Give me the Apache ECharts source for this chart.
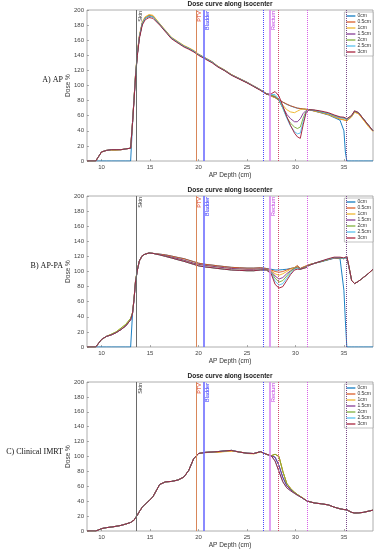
<!DOCTYPE html>
<html>
<head>
<meta charset="utf-8">
<script src="https://cdn.jsdelivr.net/npm/echarts@6/dist/echarts.min.js"></script>
<style>html,body{margin:0;padding:0;background:#fff;}#c{width:377px;height:550px;}</style>
</head>
<body>
<div id="c"></div>
<script>
// depth positions (cm)
const depth = [8.5, 9.4, 9.7, 10, 10.5, 11, 11.5, 12, 12.5, 13,
  13.2, 13.35, 13.5, 13.7, 13.9, 14.2, 14.5, 14.9, 15.3,
  16, 16.6, 17.2, 17.9, 18.5, 19, 19.5, 20, 20.7, 21.4, 22, 22.7, 23.4, 24.2, 25, 25.7, 26.4, 27,
  27.5, 27.9, 28.3, 28.7, 29.1, 29.5, 29.9, 30.2, 30.5, 30.8, 31.1, 31.4, 32, 32.7, 33.4, 34, 34.6, 35, 35.15, 35.3, 35.5, 35.8, 36.1, 36.5, 37, 37.5, 38];

const seriesNames = ['0cm', '0.5cm', '1cm', '1.5cm', '2cm', '2.5cm', '3cm'];
const seriesColors = ['#0072BD', '#D95319', '#EDB120', '#7E2F8E', '#77AC30', '#4DBEEE', '#A2142F'];
const panelLabels = ['A) AP', 'B) AP-PA', 'C) Clinical IMRT'];
const xTicks = [10, 15, 20, 25, 30, 35];

// reference structure lines
const refPos = [13.56, 19.72, 20.55, 26.68, 27.36, 28.25, 31.2, 35.2];
const refNames = ['Skin', 'PTV', 'Bladder', '', 'Rectum', '', '', ''];

// ---------- A) AP ----------
const ap0 = [0,0,0,0,0,0,0,0,0,0,
  50,81,112,142,164,182,189,192,191,
  181,172,163,157,152,149,145.5,141,136,131,125,120,114,109,104,99,94,89,
  86,84,81,78,75,73,71,70,69.5,69,68.5,68,66,63.5,61,57.5,54,40,12,0,0,0,0,0,0,0,0];
const ap05 = [0,0,6,12,14,15,15,15,16,17,
  52,82,113,143,165,183,190,193,192,
  181.5,172.5,163.5,157.5,152.5,149.5,146,141.5,136.5,131.5,125.5,120.5,114.5,109.5,104.5,99.5,94.5,89.5,
  86,84,81,78,75.5,73,71.5,70,69.5,69,68.5,68,66,64,61.5,58.5,55.5,54.5,54.5,53,54,59,65,63,55,47,40];
const ap1 = [0,0,6,12,14,14,14,15,16,17,
  52,83,114,145,166,184,191,194,193,
  182,173,164,158,153,150,146.5,141.5,136.5,131.5,125.5,120.5,114.5,109,104,99,94,89,
  86,84,80,74,68,65,64,66,68,69,68.5,68,66,64,61.5,58.5,55.5,54.5,54.5,53,53.5,58.5,64.5,62.5,54.5,46,39];
const ap15 = [0,0,6,12,14,15,15,15,16,17,
  52,82,112,142,164,182,189,192,191,
  181,172,163,157,152,149,145.5,141,136,131,125,120,114,109,104,99,94,89,
  87,85,80,71,62,56,52,52,56,63,67,68,67,65,63,60,57.5,57,57,55,54,60,66,64,56,48,40];
const ap2 = [0,0,6,12,14,15,15,15,16,17,
  52,82,112,142,164,182,189,192,191,
  181,172,163,157,152,149,145.5,141,136,131,125,120,114,109,104,99,94,89,
  87,86,80,70,58,50,45,43,45,57,66,68,67,65,63,60,57.5,57,57,55,54,60,66,64,56,48,40];
const ap25 = [0,0,6,12,14,15,15,15,16,17,
  52,82,112,142,164,182,189,192,191,
  181,172,163,157,152,149,145.5,141,136,131,125,120,114,109,104,99,94,89,
  88,88,82,70,57,46,39,36,37,52,65,68,67,65,63,60,57.5,57,57,55,54,60,66,64,56,48,40];
const ap3 = [0,0,6,12,14,15,15,15,16,17,
  51,80,110,140,162,180,187,190,189,
  180,171,162,156,151,148,144.5,140,135,130,124.5,119.5,113.5,108.5,103.5,98.5,93.5,88.5,
  89,92,86,73,59,47,37,32,30,48,64,68,67.5,66,64,61,58.5,58,58,56,54.5,60.5,66.5,64,56,48,40];

// ---------- B) AP-PA ----------
const appa0 = [0,0,0,0,0,0,0,0,0,0,
  45,63,86,102,114,121,123,124.5,124,
  123,122,120.5,118.5,117,115,113,111,109.5,108.5,107.5,106.5,105.5,105,104.5,104.5,105,104,
  103,102,102,102.5,103,104,105,107,104,105.5,107,109,111,113,115.5,117.5,117,75,35,0,0,0,0,0,0,0,0];
const appa05 = [0,0,5,10,14,16,19,23,28,36,
  45,63,86,102,114,121,123,124.5,124,
  123,122,120.5,118.5,117,115,113,111,109.5,108.5,107.5,106.5,105.5,105,104.5,104.5,105,104,
  102,100,99,100,102,104,105,108,104,106,107.5,109,111,113.5,116,118,118,117,118,120,108,88,84,87,92,97,103];
const appa1 = [0,0,5,10,14,17,20,25,30,38,
  46,64,87,103,114,121,123,124.5,124,
  122.5,121,119,117,115,113,111,109.5,108,107,106,105,104,103.5,103,103,103.5,103,
  101,97,95,97,100,103,105,107,103,105.5,107,109,111,113.5,116,118,118,117,118,119,107,88,84,87,92,97,103];
const appa15 = [0,0,5,10,14,16,19,23,28,36,
  45,63,86,102,114,121,123,124.5,124,
  122.5,121,119,117,115,113,111,109.5,108,107,106,105,104,103.5,103,103,103.5,103,
  100,94,90,92,97,101,104,106,103,105,106.5,108.5,111,113.5,116,118,118,117,118,119,107,88,84,87,92,97,103];
const appa2 = [0,0,5,10,14,17,20,25,30,38,
  46,64,87,103,114,121,123,124.5,124,
  122,120,118,115.5,113.5,111.5,109.5,107.5,106,105,104,103,102,101.5,101,101,102,102,
  99,91,86,88,94,100,104,105,103,104.5,106,108.5,111,113.5,116,118.5,118,117,118,119,107,88,84,87,92,97,103];
const appa25 = [0,0,5,10,14,16,19,23,28,36,
  45,63,86,102,114,121,123,124.5,124,
  122,120,118,115.5,113.5,111.5,109.5,107.5,106,105,104,103,102,101.5,101,101,102,102,
  98,87,82,84,91,98,103,104,103,104,105.5,108,111,114,116.5,118.5,118.5,117,118,119,107,88,84,87,92,97,103];
const appa3 = [0,0,5,10,14,16,19,23,28,36,
  45,63,86,102,114,121,123,124.5,124,
  122,120,118,115.5,113.5,111.5,109.5,107.5,106,105,104,103,102,101.5,101,101,102,102,
  97,83,78,80,88,96,102,103,103,104,105,108,111,114,117,119,119,118,119,120,108,88,84,87,92,97,103];

// ---------- C) Clinical IMRT ----------
const imrt0 = [0,0,1.5,3.2,4.5,5.3,6.3,7.5,9.3,11.5,
  13,14.5,17.6,21.5,26,32,36,40.5,46,
  62.5,66,66.5,68.5,72.5,81.5,97,104,105.5,106,106.6,107.5,108.2,106,104.4,104,106.5,103,
  101,99,88,72,61,55.5,51.5,48.5,46,43.5,41,39.5,37.5,36.5,35,32,29.8,28.8,28.5,28.4,27,25,24.2,24.3,25,26.5,28];
const imrt05 = [0,0,1.5,3.2,4.5,5.3,6.3,7.5,9.3,11.5,
  13,14.5,17.6,21.5,26,32,36,40.5,46,
  62.5,66,66.5,68.5,72.5,81.5,97,104,105.5,106,106,107,107.5,106,104.4,104,106.5,103,
  101,103,100,80,64,57,52,49,46.5,44,41,39.5,37.5,36.5,35,32,29.8,28.8,28.5,28.4,27,25,24.2,24.3,25,26.5,28];
const imrt1 = [0,0,1.5,3.2,4.5,5.3,6.3,7.5,9.3,11.5,
  13,14.5,17.6,21.5,26,32,36,40.5,46,
  62.5,66,66.5,68.5,72.5,81.5,97,104,105,106,105.5,106.5,107,106.5,104,103.5,106,103,
  101,103,100,80,64,57,52,49,46.5,44,41,39.5,37.5,36.5,35,32,29.8,28.8,28.5,28.4,27,25,24.2,24.3,25,26.5,28];
const imrt15 = [0,0,1.5,3.2,4.5,5.3,6.3,7.5,9.3,11.5,
  13,14.5,17.6,21.5,26,32,36,40.5,46,
  62.5,66,66.5,68.5,72.5,81.5,97,104,105.5,106,106.6,107.5,108.2,106,104.4,104,106.5,103,
  101,99,88,72,61,55.5,51.5,48.5,46,43.5,41,39.5,37.5,36.5,35,32,29.8,28.8,28.5,28.4,27,25,24.2,24.3,25,26.5,28];
const imrt2 = [0,0,1.5,3.2,4.5,5.3,6.3,7.5,9.3,11.5,
  13,14.5,17.6,21.5,26,32,36,40.5,46,
  62.5,66,66.5,68.5,72.5,81.5,97,104,105.5,106,106.6,107.5,108.2,106,104.4,104,106.5,103,
  101,103,100,80,64,57,52,49,46.5,44,41,39.5,37.5,36.5,35,32,29.8,28.8,28.5,28.4,27,25,24.2,24.3,25,26.5,28];
const imrt25 = [0,0,1.5,3.2,4.5,5.3,6.3,7.5,9.3,11.5,
  13,14.5,17.6,21.5,26,32,36,40.5,46,
  62.5,66,66.5,68.5,72.5,81.5,97,104,105.5,106,106.6,107.5,108.2,106,104.4,104,106.5,103,
  101,94,80,66,58,54,50.5,48,46,43.5,41,39.5,37.5,36.5,35,32,29.8,28.8,28.5,28.4,27,25,24.2,24.3,25,26.5,28];
const imrt3 = [0,0,1.5,3.2,4.5,5.3,6.3,7.5,9.3,11.5,
  13,14.5,17.6,21.5,26,32,36,40.5,46,
  62.5,66,66.5,68.5,72.5,81.5,97,104,105.5,106,106.6,107.5,108.2,106,104.4,104,106.5,103,
  101,94,80,66,58,54,50.5,48,46,43.5,41,39.5,37.5,36.5,35,32,29.8,28.8,28.5,28.4,27,25,24.2,24.3,25,26.5,28];

const panels = [
  [ap0, ap05, ap1, ap15, ap2, ap25, ap3],
  [appa0, appa05, appa1, appa15, appa2, appa25, appa3],
  [imrt0, imrt05, imrt1, imrt15, imrt2, imrt25, imrt3]
];

const gridTops = [10, 196, 382];
const plotH = 151;
const font = 'Liberation Sans, Arial, sans-serif';

const refStyles = [
  {color: '#6a6a6a', type: 'solid', width: 1, lab: '#333'},
  {color: '#d8875a', type: 'solid', width: 1, lab: '#e0402a'},
  {color: '#6d6dff', type: 'solid', width: 1.6, lab: '#2a2aff'},
  {color: '#4a4aff', type: 'dotted', width: 1, lab: '#333'},
  {color: '#d98af0', type: 'solid', width: 1.6, lab: '#c23be0'},
  {color: '#d04a6a', type: 'dotted', width: 1, lab: '#333'},
  {color: '#d860e8', type: 'dotted', width: 1, lab: '#333'},
  {color: '#7a4a8a', type: 'dotted', width: 1, lab: '#333'}
];

const grids = [], xAxes = [], yAxes = [], series = [], titles = [], legends = [], graphics = [];
gridTops.forEach((top, p) => {
  grids.push({left: 87, right: 4, top: top, height: plotH, show: true, borderColor: '#9a9a9a', borderWidth: 0.8, backgroundColor: '#fff'});
  xAxes.push({
    type: 'value', gridIndex: p, min: 8.5, max: 38,
    name: 'AP Depth (cm)', nameLocation: 'middle', nameGap: 11, nameMoveOverlap: false,
    nameTextStyle: {fontSize: 6.5, color: '#333', fontFamily: font},
    axisLine: {show: false}, splitLine: {show: false},
    axisTick: {show: true, inside: true, length: 2, lineStyle: {color: '#777', width: 0.6}, customValues: xTicks},
    axisLabel: {fontSize: 6, color: '#444', margin: 3, fontFamily: font, customValues: xTicks}
  });
  yAxes.push({
    type: 'value', gridIndex: p, min: 0, max: 200, interval: 20,
    name: 'Dose %', nameLocation: 'middle', nameGap: 15, nameRotate: 90, nameMoveOverlap: false,
    nameTextStyle: {fontSize: 6.5, color: '#333', fontFamily: font},
    axisLine: {show: false}, splitLine: {show: false},
    axisTick: {show: true, inside: true, length: 2, lineStyle: {color: '#777', width: 0.6}},
    axisLabel: {fontSize: 6, color: '#444', margin: 3, fontFamily: font}
  });
  titles.push({text: 'Dose curve along isocenter', left: 230, top: top - 9, textAlign: 'center', padding: 0,
    textStyle: {fontSize: 6.5, fontWeight: 'bold', color: '#222', fontFamily: font}});
  legends.push({
    data: seriesNames, orient: 'vertical', right: 4, top: top + 2, selectedMode: false,
    icon: 'rect', itemWidth: 9, itemHeight: 1.2, itemGap: 0, padding: [1, 2, 1, 2],
    backgroundColor: '#fff', borderColor: '#9a9a9a', borderWidth: 0.6,
    textStyle: {fontSize: 5, color: '#333', fontFamily: font, lineHeight: 6, padding: [0, 0, 0, -3]}
  });
  graphics.push({type: 'text', x: 63, y: top + plotH / 2 - 5.5,
    style: {text: panelLabels[p], fontSize: 8, fontFamily: 'Liberation Serif, Times New Roman, serif', fill: '#111', textAlign: 'right', textVerticalAlign: 'middle'}});
  panels[p].forEach((ys, k) => {
    series.push({
      type: 'line', name: seriesNames[k], xAxisIndex: p, yAxisIndex: p,
      data: depth.map((x, i) => [x, ys[i]]),
      symbol: 'none', silent: true, animation: false,
      lineStyle: {width: 0.9, color: seriesColors[k]}, itemStyle: {color: seriesColors[k]}
    });
  });
  series.push({
    type: 'line', xAxisIndex: p, yAxisIndex: p, data: [], silent: true, animation: false, z: 1,
    markLine: {
      symbol: ['none', 'none'], silent: true, animation: false,
      data: refPos.map((v, i) => ({
        xAxis: v,
        lineStyle: {color: refStyles[i].color, type: refStyles[i].type, width: refStyles[i].width},
        label: {show: refNames[i] !== '', formatter: refNames[i], position: 'insideEndBottom',
          fontSize: 5.5, color: refStyles[i].lab, fontFamily: font, distance: 1}
      }))
    }
  });
});

const chart = echarts.init(document.getElementById('c'), null, {renderer: 'canvas'});
chart.setOption({
  animation: false,
  title: titles, grid: grids, xAxis: xAxes, yAxis: yAxes, legend: legends, series: series,
  graphic: graphics
});
</script>
</body>
</html>
